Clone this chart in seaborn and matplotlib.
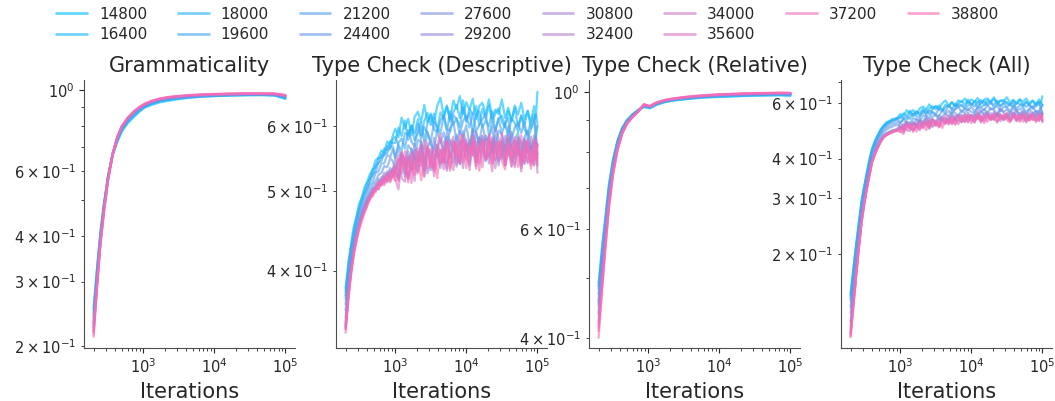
import matplotlib
matplotlib.use("Agg")
import matplotlib.pyplot as plt
import pandas as pd
import seaborn as sns
from matplotlib.lines import Line2D

# ---------------- data ----------------
SIZES = [14800, 16400, 18000, 19600, 21200, 24400, 27600, 29200,
         30800, 32400, 34000, 35600, 37200, 38800]

SMOOTH_ITERS = [200, 225, 250, 280, 320, 370, 430, 500, 600, 720, 870, 1050,
                1300, 1700, 2300, 3200, 4500, 6500, 10000, 16000, 27000,
                45000, 70000, 100000]

NOISY_ITERS = [200, 220, 240, 260, 285, 310, 340, 370, 400, 440, 480, 530,
               580, 640, 700, 770, 850, 930,
               1000, 1110, 1230, 1370, 1520, 1690, 1870, 2080, 2310, 2560,
               2840, 3160, 3510, 3890, 4320, 4800, 5330, 5920, 6570, 7290,
               8100, 8990, 9980, 11100, 12300, 13700, 15200, 16800, 18700,
               20800, 23100, 25600, 28400, 31600, 35100, 38900, 43200, 48000,
               53300, 59200, 65700, 72900, 81000, 89900, 95000, 100000]

GRAMMATICALITY = [
    [0.255, 0.33, 0.41, 0.49, 0.58, 0.66, 0.72, 0.77, 0.81, 0.84, 0.87, 0.895, 0.91, 0.925, 0.935, 0.945, 0.952, 0.958, 0.962, 0.965, 0.967, 0.968, 0.966, 0.945],
    [0.25, 0.33, 0.41, 0.49, 0.585, 0.665, 0.725, 0.775, 0.815, 0.845, 0.875, 0.9, 0.915, 0.93, 0.94, 0.948, 0.955, 0.96, 0.963, 0.966, 0.968, 0.969, 0.967, 0.95],
    [0.245, 0.325, 0.405, 0.485, 0.58, 0.665, 0.73, 0.78, 0.82, 0.85, 0.88, 0.9, 0.918, 0.932, 0.942, 0.95, 0.956, 0.961, 0.965, 0.968, 0.97, 0.97, 0.968, 0.952],
    [0.24, 0.32, 0.40, 0.485, 0.58, 0.67, 0.735, 0.785, 0.825, 0.855, 0.882, 0.903, 0.92, 0.935, 0.945, 0.952, 0.958, 0.963, 0.966, 0.969, 0.971, 0.971, 0.969, 0.955],
    [0.235, 0.315, 0.40, 0.48, 0.58, 0.67, 0.74, 0.79, 0.83, 0.86, 0.885, 0.905, 0.922, 0.937, 0.947, 0.954, 0.96, 0.964, 0.967, 0.97, 0.972, 0.972, 0.97, 0.958],
    [0.23, 0.31, 0.395, 0.48, 0.58, 0.67, 0.74, 0.79, 0.83, 0.862, 0.888, 0.908, 0.925, 0.94, 0.95, 0.956, 0.961, 0.965, 0.968, 0.971, 0.973, 0.973, 0.971, 0.96],
    [0.23, 0.31, 0.395, 0.478, 0.578, 0.668, 0.74, 0.792, 0.832, 0.864, 0.89, 0.91, 0.927, 0.941, 0.951, 0.957, 0.962, 0.966, 0.969, 0.972, 0.974, 0.974, 0.972, 0.962],
    [0.225, 0.305, 0.39, 0.475, 0.575, 0.668, 0.742, 0.794, 0.834, 0.866, 0.892, 0.912, 0.928, 0.942, 0.952, 0.958, 0.963, 0.967, 0.97, 0.973, 0.975, 0.975, 0.973, 0.963],
    [0.225, 0.305, 0.39, 0.475, 0.575, 0.668, 0.742, 0.795, 0.835, 0.867, 0.893, 0.913, 0.929, 0.943, 0.953, 0.959, 0.964, 0.968, 0.971, 0.973, 0.975, 0.975, 0.974, 0.964],
    [0.22, 0.30, 0.385, 0.47, 0.572, 0.666, 0.742, 0.795, 0.836, 0.868, 0.894, 0.914, 0.93, 0.944, 0.954, 0.96, 0.965, 0.969, 0.972, 0.974, 0.976, 0.976, 0.975, 0.965],
    [0.22, 0.30, 0.385, 0.47, 0.572, 0.666, 0.743, 0.796, 0.837, 0.869, 0.895, 0.915, 0.931, 0.945, 0.955, 0.961, 0.966, 0.97, 0.973, 0.975, 0.977, 0.977, 0.976, 0.966],
    [0.218, 0.298, 0.383, 0.468, 0.57, 0.665, 0.743, 0.797, 0.838, 0.87, 0.896, 0.916, 0.932, 0.946, 0.956, 0.962, 0.967, 0.971, 0.974, 0.976, 0.978, 0.978, 0.977, 0.967],
    [0.215, 0.295, 0.38, 0.465, 0.568, 0.664, 0.743, 0.797, 0.838, 0.87, 0.897, 0.917, 0.933, 0.947, 0.957, 0.963, 0.968, 0.972, 0.975, 0.977, 0.979, 0.979, 0.978, 0.968],
    [0.212, 0.292, 0.378, 0.463, 0.566, 0.663, 0.742, 0.797, 0.839, 0.871, 0.898, 0.918, 0.934, 0.948, 0.958, 0.964, 0.969, 0.973, 0.976, 0.978, 0.98, 0.98, 0.979, 0.97],
]

TYPECHECK_RELATIVE = [
    [0.49, 0.565, 0.63, 0.71, 0.78, 0.835, 0.875, 0.90, 0.92, 0.935, 0.945, 0.94, 0.952, 0.962, 0.968, 0.972, 0.976, 0.979, 0.981, 0.983, 0.985, 0.986, 0.987, 0.985],
    [0.485, 0.56, 0.625, 0.705, 0.775, 0.833, 0.873, 0.899, 0.919, 0.934, 0.946, 0.942, 0.954, 0.963, 0.969, 0.973, 0.977, 0.98, 0.982, 0.984, 0.986, 0.987, 0.988, 0.987],
    [0.48, 0.55, 0.62, 0.70, 0.772, 0.83, 0.872, 0.898, 0.918, 0.933, 0.947, 0.943, 0.955, 0.964, 0.97, 0.974, 0.978, 0.981, 0.984, 0.986, 0.988, 0.989, 0.99, 0.989],
    [0.47, 0.545, 0.61, 0.695, 0.77, 0.828, 0.87, 0.897, 0.917, 0.933, 0.948, 0.944, 0.956, 0.965, 0.971, 0.975, 0.979, 0.982, 0.985, 0.987, 0.989, 0.99, 0.991, 0.99],
    [0.46, 0.54, 0.605, 0.69, 0.765, 0.826, 0.869, 0.896, 0.916, 0.932, 0.949, 0.945, 0.957, 0.966, 0.972, 0.976, 0.98, 0.983, 0.986, 0.988, 0.99, 0.991, 0.992, 0.991],
    [0.455, 0.53, 0.60, 0.685, 0.76, 0.822, 0.866, 0.894, 0.915, 0.932, 0.95, 0.944, 0.957, 0.966, 0.972, 0.977, 0.981, 0.984, 0.987, 0.989, 0.991, 0.992, 0.993, 0.992],
    [0.45, 0.525, 0.595, 0.68, 0.757, 0.82, 0.865, 0.893, 0.914, 0.931, 0.951, 0.945, 0.958, 0.967, 0.973, 0.977, 0.981, 0.984, 0.987, 0.989, 0.991, 0.992, 0.993, 0.993],
    [0.44, 0.515, 0.59, 0.675, 0.752, 0.817, 0.863, 0.892, 0.913, 0.931, 0.952, 0.946, 0.958, 0.967, 0.973, 0.978, 0.982, 0.985, 0.988, 0.99, 0.992, 0.993, 0.994, 0.993],
    [0.435, 0.51, 0.585, 0.67, 0.75, 0.815, 0.862, 0.891, 0.913, 0.93, 0.952, 0.946, 0.959, 0.968, 0.974, 0.978, 0.982, 0.985, 0.988, 0.99, 0.992, 0.993, 0.994, 0.994],
    [0.425, 0.50, 0.578, 0.665, 0.746, 0.812, 0.86, 0.89, 0.912, 0.93, 0.953, 0.947, 0.959, 0.968, 0.974, 0.979, 0.983, 0.986, 0.989, 0.991, 0.993, 0.994, 0.995, 0.994],
    [0.42, 0.495, 0.572, 0.66, 0.743, 0.81, 0.858, 0.889, 0.911, 0.929, 0.953, 0.947, 0.96, 0.969, 0.975, 0.979, 0.983, 0.986, 0.989, 0.991, 0.993, 0.994, 0.995, 0.995],
    [0.415, 0.49, 0.568, 0.656, 0.74, 0.808, 0.857, 0.888, 0.91, 0.929, 0.954, 0.948, 0.96, 0.969, 0.975, 0.98, 0.984, 0.987, 0.99, 0.992, 0.994, 0.995, 0.996, 0.995],
    [0.41, 0.485, 0.563, 0.652, 0.737, 0.806, 0.856, 0.887, 0.91, 0.928, 0.954, 0.948, 0.961, 0.97, 0.976, 0.98, 0.984, 0.987, 0.99, 0.992, 0.994, 0.995, 0.996, 0.996],
    [0.40, 0.478, 0.558, 0.648, 0.734, 0.804, 0.855, 0.886, 0.909, 0.928, 0.955, 0.949, 0.961, 0.97, 0.976, 0.981, 0.985, 0.988, 0.991, 0.993, 0.995, 0.996, 0.997, 0.996],
]

TYPECHECK_DESCRIPTIVE = [
    [0.381, 0.411, 0.432, 0.452, 0.466, 0.482, 0.492, 0.505, 0.512, 0.524, 0.530, 0.545, 0.548, 0.560, 0.556, 0.574, 0.568, 0.585,
     0.595, 0.581, 0.614, 0.595, 0.612, 0.584, 0.615, 0.624, 0.606, 0.636, 0.606, 0.621, 0.605, 0.634, 0.649, 0.618, 0.633, 0.611, 0.644, 0.629, 0.652, 0.620, 0.641, 0.627, 0.647, 0.611, 0.634, 0.640, 0.619, 0.646, 0.613, 0.628, 0.620, 0.646, 0.613, 0.631, 0.607, 0.635, 0.619, 0.640, 0.611, 0.625, 0.607, 0.634, 0.612, 0.660],
    [0.377, 0.407, 0.430, 0.447, 0.464, 0.478, 0.490, 0.500, 0.511, 0.518, 0.531, 0.534, 0.549, 0.548, 0.563, 0.560, 0.575, 0.571,
     0.572, 0.597, 0.583, 0.609, 0.577, 0.600, 0.587, 0.611, 0.584, 0.608, 0.622, 0.601, 0.621, 0.592, 0.623, 0.612, 0.635, 0.607, 0.623, 0.636, 0.613, 0.644, 0.606, 0.629, 0.619, 0.634, 0.601, 0.629, 0.612, 0.635, 0.606, 0.621, 0.630, 0.607, 0.597, 0.626, 0.609, 0.631, 0.599, 0.617, 0.602, 0.626, 0.596, 0.612, 0.620, 0.604],
    [0.373, 0.403, 0.426, 0.443, 0.460, 0.473, 0.486, 0.497, 0.504, 0.517, 0.522, 0.537, 0.540, 0.553, 0.552, 0.567, 0.562, 0.578,
     0.582, 0.568, 0.560, 0.588, 0.585, 0.601, 0.576, 0.587, 0.606, 0.575, 0.604, 0.618, 0.594, 0.589, 0.609, 0.617, 0.590, 0.625, 0.602, 0.613, 0.598, 0.631, 0.609, 0.622, 0.590, 0.618, 0.625, 0.597, 0.609, 0.599, 0.625, 0.591, 0.612, 0.617, 0.600, 0.586, 0.612, 0.605, 0.591, 0.618, 0.594, 0.586, 0.608, 0.619, 0.589, 0.601],
    [0.370, 0.400, 0.423, 0.440, 0.457, 0.470, 0.483, 0.494, 0.502, 0.512, 0.524, 0.528, 0.541, 0.544, 0.555, 0.556, 0.566, 0.566,
     0.548, 0.572, 0.579, 0.563, 0.593, 0.574, 0.566, 0.603, 0.578, 0.598, 0.588, 0.574, 0.606, 0.599, 0.587, 0.618, 0.595, 0.590, 0.618, 0.611, 0.587, 0.608, 0.617, 0.597, 0.621, 0.591, 0.601, 0.611, 0.621, 0.585, 0.605, 0.592, 0.613, 0.587, 0.605, 0.613, 0.577, 0.597, 0.605, 0.588, 0.607, 0.578, 0.594, 0.610, 0.580, 0.599],
    [0.364, 0.393, 0.416, 0.434, 0.451, 0.464, 0.476, 0.487, 0.496, 0.508, 0.512, 0.526, 0.528, 0.540, 0.540, 0.553, 0.550, 0.562,
     0.548, 0.565, 0.542, 0.540, 0.568, 0.561, 0.544, 0.577, 0.573, 0.559, 0.590, 0.569, 0.563, 0.592, 0.572, 0.589, 0.566, 0.596, 0.606, 0.575, 0.591, 0.581, 0.601, 0.568, 0.595, 0.588, 0.572, 0.602, 0.575, 0.580, 0.597, 0.564, 0.592, 0.586, 0.565, 0.599, 0.569, 0.576, 0.589, 0.560, 0.581, 0.592, 0.564, 0.570, 0.588, 0.554],
    [0.358, 0.389, 0.412, 0.430, 0.447, 0.460, 0.472, 0.482, 0.490, 0.500, 0.508, 0.514, 0.523, 0.526, 0.536, 0.534, 0.548, 0.543,
     0.527, 0.518, 0.551, 0.547, 0.534, 0.563, 0.548, 0.543, 0.575, 0.543, 0.566, 0.574, 0.546, 0.562, 0.577, 0.557, 0.588, 0.573, 0.558, 0.585, 0.567, 0.591, 0.571, 0.562, 0.593, 0.564, 0.581, 0.556, 0.584, 0.574, 0.550, 0.583, 0.563, 0.577, 0.555, 0.584, 0.565, 0.551, 0.575, 0.546, 0.579, 0.556, 0.567, 0.551, 0.581, 0.553],
    [0.350, 0.382, 0.407, 0.426, 0.444, 0.457, 0.470, 0.479, 0.489, 0.494, 0.504, 0.506, 0.517, 0.514, 0.526, 0.522, 0.533, 0.528,
     0.547, 0.529, 0.557, 0.525, 0.549, 0.533, 0.570, 0.544, 0.566, 0.532, 0.561, 0.541, 0.580, 0.549, 0.559, 0.541, 0.581, 0.549, 0.574, 0.567, 0.539, 0.583, 0.559, 0.576, 0.552, 0.590, 0.564, 0.583, 0.544, 0.573, 0.556, 0.595, 0.579, 0.547, 0.569, 0.552, 0.590, 0.557, 0.581, 0.573, 0.539, 0.574, 0.557, 0.584, 0.548, 0.568],
    [0.346, 0.379, 0.405, 0.424, 0.442, 0.455, 0.467, 0.477, 0.484, 0.496, 0.498, 0.510, 0.508, 0.520, 0.516, 0.528, 0.519, 0.534,
     0.525, 0.546, 0.539, 0.520, 0.558, 0.530, 0.550, 0.528, 0.569, 0.542, 0.563, 0.530, 0.541, 0.569, 0.559, 0.541, 0.575, 0.549, 0.569, 0.535, 0.575, 0.558, 0.569, 0.542, 0.588, 0.551, 0.580, 0.566, 0.548, 0.584, 0.557, 0.572, 0.537, 0.574, 0.553, 0.579, 0.565, 0.538, 0.573, 0.547, 0.566, 0.540, 0.582, 0.554, 0.575, 0.548],
    [0.343, 0.377, 0.402, 0.422, 0.440, 0.453, 0.466, 0.475, 0.486, 0.490, 0.502, 0.500, 0.514, 0.508, 0.522, 0.512, 0.530, 0.520,
     0.531, 0.519, 0.557, 0.545, 0.520, 0.531, 0.561, 0.529, 0.548, 0.556, 0.525, 0.543, 0.563, 0.557, 0.533, 0.574, 0.542, 0.555, 0.541, 0.574, 0.565, 0.533, 0.571, 0.555, 0.583, 0.543, 0.562, 0.550, 0.579, 0.540, 0.573, 0.565, 0.543, 0.552, 0.583, 0.568, 0.535, 0.575, 0.555, 0.544, 0.577, 0.560, 0.567, 0.537, 0.550, 0.570],
    [0.342, 0.375, 0.401, 0.421, 0.439, 0.452, 0.465, 0.474, 0.482, 0.493, 0.496, 0.506, 0.502, 0.516, 0.510, 0.525, 0.515, 0.531,
     0.535, 0.515, 0.553, 0.534, 0.517, 0.553, 0.532, 0.552, 0.544, 0.520, 0.564, 0.556, 0.534, 0.565, 0.541, 0.556, 0.532, 0.576, 0.564, 0.552, 0.539, 0.576, 0.547, 0.571, 0.562, 0.536, 0.566, 0.576, 0.544, 0.552, 0.581, 0.545, 0.562, 0.573, 0.537, 0.555, 0.569, 0.548, 0.580, 0.538, 0.551, 0.576, 0.543, 0.566, 0.561, 0.536],
    [0.341, 0.375, 0.401, 0.421, 0.439, 0.453, 0.465, 0.476, 0.483, 0.491, 0.500, 0.503, 0.512, 0.510, 0.520, 0.515, 0.527, 0.522,
     0.531, 0.553, 0.518, 0.513, 0.550, 0.540, 0.514, 0.558, 0.550, 0.529, 0.572, 0.540, 0.530, 0.569, 0.539, 0.561, 0.529, 0.569, 0.582, 0.539, 0.561, 0.548, 0.577, 0.530, 0.571, 0.561, 0.540, 0.583, 0.547, 0.554, 0.579, 0.533, 0.572, 0.565, 0.537, 0.584, 0.543, 0.555, 0.572, 0.533, 0.562, 0.578, 0.539, 0.548, 0.574, 0.526],
    [0.339, 0.373, 0.399, 0.419, 0.437, 0.451, 0.463, 0.473, 0.479, 0.492, 0.494, 0.506, 0.504, 0.516, 0.512, 0.524, 0.514, 0.530,
     0.517, 0.502, 0.546, 0.538, 0.518, 0.557, 0.534, 0.525, 0.568, 0.521, 0.553, 0.562, 0.521, 0.542, 0.561, 0.531, 0.574, 0.551, 0.530, 0.567, 0.542, 0.576, 0.549, 0.537, 0.583, 0.542, 0.567, 0.534, 0.574, 0.560, 0.528, 0.575, 0.547, 0.568, 0.538, 0.578, 0.553, 0.534, 0.567, 0.528, 0.574, 0.542, 0.558, 0.537, 0.579, 0.539],
    [0.340, 0.374, 0.400, 0.420, 0.438, 0.452, 0.464, 0.474, 0.483, 0.487, 0.499, 0.498, 0.511, 0.507, 0.519, 0.513, 0.528, 0.518,
     0.536, 0.514, 0.558, 0.529, 0.551, 0.511, 0.552, 0.563, 0.536, 0.576, 0.533, 0.552, 0.528, 0.567, 0.586, 0.541, 0.561, 0.529, 0.575, 0.553, 0.585, 0.541, 0.572, 0.552, 0.582, 0.532, 0.566, 0.575, 0.547, 0.585, 0.540, 0.562, 0.551, 0.588, 0.544, 0.568, 0.536, 0.576, 0.553, 0.584, 0.543, 0.563, 0.538, 0.577, 0.546, 0.570],
    [0.336, 0.370, 0.396, 0.416, 0.434, 0.448, 0.460, 0.470, 0.478, 0.490, 0.492, 0.504, 0.502, 0.514, 0.508, 0.522, 0.512, 0.528,
     0.514, 0.547, 0.525, 0.559, 0.512, 0.543, 0.523, 0.555, 0.515, 0.547, 0.565, 0.534, 0.560, 0.518, 0.560, 0.542, 0.574, 0.533, 0.555, 0.573, 0.540, 0.585, 0.533, 0.565, 0.553, 0.574, 0.529, 0.570, 0.548, 0.580, 0.541, 0.562, 0.575, 0.544, 0.531, 0.571, 0.548, 0.581, 0.535, 0.561, 0.540, 0.574, 0.532, 0.556, 0.567, 0.545],
]

TYPECHECK_ALL = [
    [0.150, 0.182, 0.216, 0.250, 0.294, 0.327, 0.364, 0.400, 0.430, 0.456, 0.474, 0.496, 0.508, 0.522, 0.524, 0.534, 0.532, 0.542,
     0.554, 0.545, 0.569, 0.557, 0.570, 0.552, 0.576, 0.584, 0.572, 0.594, 0.575, 0.587, 0.577, 0.598, 0.611, 0.589, 0.602, 0.587, 0.612, 0.603, 0.620, 0.599, 0.615, 0.606, 0.622, 0.597, 0.615, 0.620, 0.606, 0.625, 0.601, 0.612, 0.606, 0.625, 0.601, 0.614, 0.597, 0.617, 0.605, 0.620, 0.599, 0.610, 0.596, 0.616, 0.599, 0.630],
    [0.148, 0.180, 0.214, 0.247, 0.292, 0.324, 0.362, 0.397, 0.428, 0.452, 0.473, 0.492, 0.508, 0.517, 0.526, 0.528, 0.536, 0.537,
     0.537, 0.556, 0.547, 0.567, 0.545, 0.563, 0.556, 0.574, 0.556, 0.575, 0.586, 0.573, 0.589, 0.569, 0.592, 0.585, 0.604, 0.585, 0.597, 0.608, 0.593, 0.615, 0.591, 0.608, 0.603, 0.613, 0.592, 0.612, 0.601, 0.617, 0.596, 0.608, 0.613, 0.597, 0.590, 0.610, 0.598, 0.614, 0.591, 0.604, 0.593, 0.610, 0.588, 0.600, 0.605, 0.593],
    [0.145, 0.177, 0.211, 0.244, 0.289, 0.321, 0.358, 0.394, 0.424, 0.449, 0.468, 0.489, 0.503, 0.514, 0.519, 0.527, 0.530, 0.537,
     0.544, 0.535, 0.531, 0.552, 0.551, 0.564, 0.548, 0.558, 0.572, 0.552, 0.574, 0.585, 0.570, 0.567, 0.583, 0.589, 0.572, 0.597, 0.582, 0.591, 0.582, 0.606, 0.593, 0.603, 0.582, 0.602, 0.609, 0.590, 0.599, 0.592, 0.610, 0.586, 0.600, 0.604, 0.592, 0.582, 0.600, 0.596, 0.585, 0.605, 0.587, 0.582, 0.597, 0.605, 0.583, 0.591],
    [0.142, 0.174, 0.208, 0.241, 0.285, 0.317, 0.355, 0.390, 0.421, 0.445, 0.466, 0.485, 0.501, 0.510, 0.518, 0.522, 0.529, 0.531,
     0.519, 0.537, 0.543, 0.534, 0.556, 0.544, 0.540, 0.568, 0.551, 0.567, 0.561, 0.553, 0.577, 0.573, 0.566, 0.588, 0.574, 0.572, 0.593, 0.589, 0.573, 0.589, 0.597, 0.584, 0.603, 0.582, 0.591, 0.598, 0.606, 0.581, 0.595, 0.586, 0.600, 0.582, 0.595, 0.600, 0.575, 0.589, 0.594, 0.583, 0.595, 0.575, 0.586, 0.598, 0.576, 0.589],
    [0.136, 0.167, 0.200, 0.234, 0.278, 0.310, 0.348, 0.383, 0.414, 0.438, 0.458, 0.478, 0.492, 0.502, 0.508, 0.514, 0.518, 0.522,
     0.518, 0.531, 0.516, 0.516, 0.537, 0.533, 0.523, 0.548, 0.546, 0.538, 0.561, 0.548, 0.546, 0.567, 0.554, 0.567, 0.553, 0.574, 0.583, 0.562, 0.575, 0.569, 0.585, 0.563, 0.583, 0.578, 0.569, 0.591, 0.572, 0.576, 0.588, 0.565, 0.584, 0.580, 0.565, 0.589, 0.568, 0.573, 0.581, 0.562, 0.576, 0.584, 0.563, 0.568, 0.580, 0.556],
    [0.130, 0.160, 0.193, 0.227, 0.271, 0.303, 0.340, 0.375, 0.406, 0.430, 0.450, 0.469, 0.484, 0.494, 0.500, 0.505, 0.510, 0.513,
     0.502, 0.496, 0.520, 0.520, 0.511, 0.533, 0.525, 0.523, 0.546, 0.525, 0.543, 0.550, 0.532, 0.544, 0.556, 0.543, 0.567, 0.557, 0.547, 0.568, 0.556, 0.574, 0.562, 0.557, 0.580, 0.560, 0.574, 0.557, 0.577, 0.570, 0.553, 0.577, 0.562, 0.572, 0.557, 0.577, 0.563, 0.554, 0.570, 0.550, 0.573, 0.557, 0.564, 0.553, 0.573, 0.554],
    [0.122, 0.152, 0.185, 0.219, 0.264, 0.297, 0.334, 0.368, 0.400, 0.422, 0.442, 0.460, 0.474, 0.482, 0.486, 0.492, 0.494, 0.500,
     0.515, 0.502, 0.524, 0.500, 0.519, 0.507, 0.535, 0.517, 0.534, 0.510, 0.532, 0.518, 0.549, 0.527, 0.536, 0.523, 0.554, 0.531, 0.551, 0.546, 0.526, 0.559, 0.541, 0.555, 0.537, 0.567, 0.547, 0.563, 0.534, 0.555, 0.543, 0.573, 0.561, 0.536, 0.553, 0.541, 0.570, 0.544, 0.563, 0.556, 0.531, 0.558, 0.545, 0.565, 0.538, 0.554],
    [0.118, 0.148, 0.180, 0.215, 0.259, 0.293, 0.330, 0.363, 0.396, 0.418, 0.438, 0.455, 0.472, 0.478, 0.483, 0.488, 0.492, 0.494,
     0.497, 0.514, 0.509, 0.495, 0.524, 0.504, 0.519, 0.504, 0.535, 0.516, 0.533, 0.509, 0.519, 0.541, 0.535, 0.522, 0.549, 0.530, 0.546, 0.521, 0.552, 0.539, 0.548, 0.529, 0.564, 0.537, 0.559, 0.549, 0.535, 0.562, 0.542, 0.554, 0.528, 0.556, 0.540, 0.560, 0.550, 0.529, 0.556, 0.536, 0.550, 0.531, 0.563, 0.542, 0.558, 0.538],
    [0.115, 0.145, 0.177, 0.212, 0.256, 0.290, 0.327, 0.360, 0.393, 0.416, 0.434, 0.456, 0.468, 0.480, 0.482, 0.490, 0.490, 0.497,
     0.502, 0.493, 0.522, 0.513, 0.495, 0.504, 0.527, 0.504, 0.519, 0.526, 0.504, 0.518, 0.535, 0.531, 0.514, 0.546, 0.524, 0.534, 0.524, 0.550, 0.544, 0.520, 0.549, 0.538, 0.559, 0.530, 0.545, 0.537, 0.558, 0.529, 0.554, 0.549, 0.532, 0.539, 0.562, 0.551, 0.527, 0.556, 0.541, 0.533, 0.558, 0.546, 0.551, 0.529, 0.538, 0.554],
    [0.113, 0.142, 0.174, 0.209, 0.254, 0.288, 0.325, 0.358, 0.390, 0.415, 0.435, 0.452, 0.470, 0.475, 0.485, 0.484, 0.492, 0.492,
     0.503, 0.488, 0.517, 0.504, 0.491, 0.519, 0.504, 0.520, 0.515, 0.498, 0.531, 0.526, 0.511, 0.536, 0.519, 0.532, 0.515, 0.548, 0.540, 0.531, 0.523, 0.551, 0.530, 0.549, 0.542, 0.524, 0.546, 0.555, 0.530, 0.536, 0.558, 0.532, 0.545, 0.553, 0.526, 0.540, 0.551, 0.534, 0.559, 0.527, 0.537, 0.556, 0.532, 0.549, 0.545, 0.526],
    [0.112, 0.141, 0.173, 0.208, 0.253, 0.288, 0.324, 0.358, 0.391, 0.414, 0.435, 0.454, 0.468, 0.477, 0.482, 0.487, 0.490, 0.494,
     0.499, 0.513, 0.492, 0.489, 0.514, 0.508, 0.492, 0.522, 0.517, 0.505, 0.533, 0.514, 0.509, 0.536, 0.518, 0.533, 0.514, 0.540, 0.550, 0.522, 0.538, 0.530, 0.549, 0.520, 0.546, 0.541, 0.527, 0.556, 0.533, 0.537, 0.554, 0.525, 0.550, 0.545, 0.527, 0.558, 0.532, 0.538, 0.550, 0.525, 0.544, 0.554, 0.529, 0.535, 0.552, 0.521],
    [0.110, 0.139, 0.171, 0.206, 0.251, 0.286, 0.323, 0.356, 0.389, 0.413, 0.432, 0.453, 0.466, 0.476, 0.479, 0.486, 0.488, 0.492,
     0.488, 0.479, 0.508, 0.504, 0.491, 0.517, 0.503, 0.499, 0.527, 0.498, 0.519, 0.527, 0.502, 0.516, 0.530, 0.512, 0.541, 0.527, 0.514, 0.539, 0.524, 0.546, 0.529, 0.522, 0.552, 0.527, 0.543, 0.523, 0.549, 0.540, 0.519, 0.550, 0.532, 0.545, 0.526, 0.552, 0.536, 0.523, 0.545, 0.520, 0.550, 0.530, 0.540, 0.526, 0.553, 0.528],
    [0.111, 0.140, 0.172, 0.207, 0.252, 0.287, 0.324, 0.357, 0.390, 0.414, 0.434, 0.452, 0.468, 0.475, 0.482, 0.485, 0.491, 0.491,
     0.500, 0.486, 0.515, 0.497, 0.512, 0.487, 0.514, 0.523, 0.506, 0.533, 0.506, 0.520, 0.505, 0.532, 0.546, 0.518, 0.532, 0.512, 0.543, 0.529, 0.551, 0.523, 0.543, 0.531, 0.551, 0.520, 0.542, 0.549, 0.531, 0.555, 0.526, 0.541, 0.534, 0.558, 0.529, 0.545, 0.525, 0.550, 0.535, 0.555, 0.529, 0.543, 0.526, 0.552, 0.532, 0.547],
    [0.109, 0.138, 0.170, 0.205, 0.250, 0.285, 0.322, 0.355, 0.388, 0.412, 0.432, 0.452, 0.466, 0.474, 0.480, 0.484, 0.488, 0.490,
     0.485, 0.507, 0.493, 0.516, 0.486, 0.507, 0.495, 0.517, 0.492, 0.514, 0.526, 0.508, 0.526, 0.500, 0.528, 0.518, 0.540, 0.514, 0.530, 0.542, 0.522, 0.551, 0.518, 0.539, 0.532, 0.547, 0.518, 0.545, 0.531, 0.551, 0.526, 0.541, 0.549, 0.529, 0.521, 0.547, 0.532, 0.552, 0.523, 0.540, 0.527, 0.549, 0.522, 0.538, 0.545, 0.530],
]

TITLES = ["Grammaticality", "Type Check (Descriptive)",
          "Type Check (Relative)", "Type Check (All)"]
PANEL_DATA = [GRAMMATICALITY, TYPECHECK_DESCRIPTIVE, TYPECHECK_RELATIVE, TYPECHECK_ALL]
PANEL_ITERS = [SMOOTH_ITERS, NOISY_ITERS, SMOOTH_ITERS, NOISY_ITERS]
YLIMS = [(0.1975, 1.065), (0.322, 0.682), (0.385, 1.045), (0.1008, 0.709)]

# ---------------- style ----------------
sns.set_style("ticks")
plt.rcParams["font.family"] = ["DejaVu Sans"]
plt.rcParams["axes.edgecolor"] = "0.3"
plt.rcParams["xtick.major.size"] = 3.5
plt.rcParams["ytick.major.size"] = 3.5
plt.rcParams["xtick.minor.size"] = 2
plt.rcParams["ytick.minor.size"] = 2

labels = [str(s) for s in SIZES]
palette = sns.blend_palette(["#00BFFF", "#8A8ADE", "#FF69B4"], len(SIZES))
ALPHA = 0.6
LW = 1.6

fig = plt.figure(figsize=(10.55, 4.01), dpi=100)
lefts = [84, 336, 589, 841]
W, H = 1055.0, 401.0
for i, left in enumerate(lefts):
    ax = fig.add_axes([left / W, (H - 348) / H, 211 / W, 268 / H])
    ax.set_xscale("log")
    ax.set_yscale("log")
    rows = []
    for lab, series in zip(labels, PANEL_DATA[i]):
        for it, v in zip(PANEL_ITERS[i], series):
            rows.append({"Iterations": it, "value": v, "size": lab})
    df = pd.DataFrame(rows)
    sns.lineplot(data=df, x="Iterations", y="value", hue="size",
                 hue_order=labels, palette=palette, estimator=None,
                 alpha=ALPHA, lw=LW, legend=False, ax=ax)
    ax.set_ylim(*YLIMS[i])
    ax.set_title(TITLES[i], fontsize=15)
    ax.set_xlabel("Iterations", fontsize=15)
    ax.set_ylabel("")
    ax.tick_params(axis="both", which="both", labelsize=10.5)
    sns.despine(ax=ax)

handles = [Line2D([], [], color=c, lw=2, alpha=ALPHA) for c in palette]
fig.legend(handles, labels, loc="upper center", bbox_to_anchor=(0.5, 1.018),
           ncol=8, frameon=False, fontsize=11, labelspacing=0.35)

fig.savefig("out.png", dpi=100)
